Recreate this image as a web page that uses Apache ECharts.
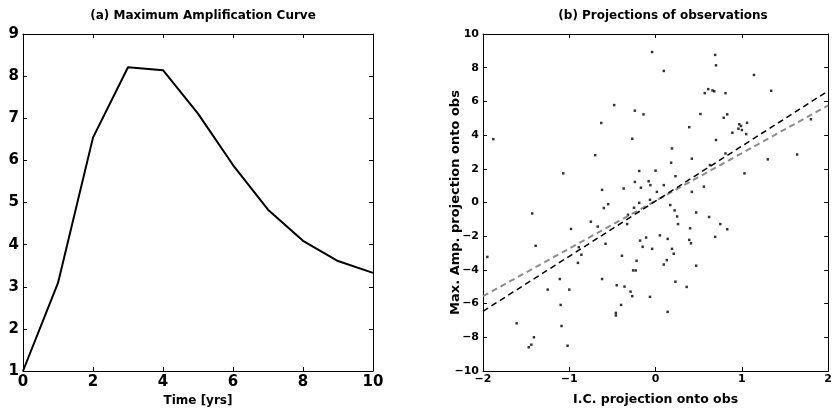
<!DOCTYPE html>
<html>
<head>
<meta charset="utf-8">
<script src="https://cdn.jsdelivr.net/npm/echarts@6/dist/echarts.min.js"></script>
<style>
html,body{margin:0;padding:0;background:#fff;}
#c{width:835px;height:412px;}
</style>
</head>
<body>
<div id="c"></div>
<script>
// Panel (a): Maximum amplification curve
var timeYrs = [0, 1, 2, 3, 4, 5, 6, 7, 8, 9, 10];
var maxAmp = [1.0, 3.09, 6.54, 8.21, 8.14, 7.11, 5.89, 4.83, 4.09, 3.61, 3.33];

// Panel (b): projections of observations (x = I.C. projection, y = Max. Amp. projection)
var obsX = [-0.04, 0.095, -0.48, -0.24, -0.14, -0.63, -0.27, -1.88, -0.70, -1.07,
  -0.19, 0.0, -0.24, -0.08, -0.06, -0.17, -0.37, 0.095, -0.62, 0.015,
  -0.065, -0.25, -0.19, -0.55, -0.60, -1.43, -0.32,
  0.69, 0.70, 1.14, 0.61, 0.57, 0.66, 0.68, 0.81, 1.34, 0.52,
  0.79, 0.83, 0.39, 0.97, 0.99, 0.96, 1.0, 1.06, 0.89, 1.05,
  0.70, 1.80, 0.19, 0.81, 0.42, 0.18, 1.30, 1.64, 1.03, 0.63,
  0.23, 0.56, 0.42, 0.17, 0.22, 0.25, 0.47, 0.62,
  -0.33, -0.75, -0.67, -0.98, -1.39, -0.89, -0.58, -0.86, -0.90, -0.39,
  -0.18, -0.11, -0.15, -0.04, 0.05, 0.095, -0.22, -0.26, -0.23, -1.11,
  -0.62, -1.25, -1.00, -0.45, -0.36, -0.29, -0.27, -0.065, -1.10, -0.40,
  -0.46, -0.46, 0.14, -1.61, -1.09, -1.41, -1.44, -1.47, -1.02,
  0.26, 0.40, 0.75, 0.83, 0.69, 0.14, 0.39, 0.41, 0.19, 0.21,
  0.13, 0.47, 0.23, 0.36, -1.95];
var obsY = [8.93, 7.81, 5.78, 5.45, 5.23, 4.72, 3.78, 3.76, 2.81, 1.73,
  1.87, 1.89, 1.22, 1.26, 1.03, 0.88, 0.83, 1.03, 0.75, 0.63,
  0.16, -0.31, -0.02, -0.10, -0.33, -0.65, -0.73,
  8.76, 8.14, 7.57, 6.73, 6.49, 6.65, 6.60, 6.49, 6.63, 5.25,
  5.03, 5.23, 4.47, 4.64, 4.54, 4.38, 4.30, 4.73, 4.14, 4.06,
  3.71, 4.94, 3.21, 2.91, 2.60, 2.36, 2.56, 2.85, 1.73, 2.22,
  1.56, 0.94, 0.63, -0.15, -0.47, -0.83, -0.59, -0.86,
  -1.28, -1.14, -1.43, -1.57, -2.57, -2.65, -2.45, -3.10, -3.58, -3.16,
  -2.26, -2.08, -2.63, -2.75, -1.95, -3.68, -3.46, -4.03, -4.03, -4.54,
  -4.54, -5.17, -5.17, -4.91, -4.99, -5.29, -5.56, -5.60, -6.08, -6.08,
  -6.55, -6.70, -6.49, -7.17, -7.33, -8.00, -8.44, -8.59, -8.50,
  -1.28, -1.53, -1.28, -1.59, -2.04, -2.16, -2.22, -2.42, -2.75, -3.04,
  -3.42, -3.75, -4.70, -5.01, -3.23];

// Regression lines (end points)
var fitX = [-2, 2];
var fitBlackY = [-6.46, 6.62];
var fitGrayY = [-5.56, 5.76];

var FONT = '"DejaVu Sans", Verdana, sans-serif';
function minus(v){ return String(v).replace('-', '\u2212'); }

function pairs(xs, ys){ var out=[]; for (var i=0;i<xs.length;i++) out.push([xs[i], ys[i]]); return out; }

var lblA = {fontFamily: FONT, fontWeight: 'bold', fontSize: 15, color: '#000'};
var lblB = {fontFamily: FONT, fontWeight: 'bold', fontSize: 11, color: '#000', formatter: minus};
var axLine = {show: true, onZero: false, lineStyle: {color: '#000', width: 1}};
var tickIn = {show: true, inside: true, length: 4, lineStyle: {color: '#000', width: 1}};
var nameStyle = {fontFamily: FONT, fontWeight: 'bold', fontSize: 12, color: '#000'};

var chart = echarts.init(document.getElementById('c'), null, {renderer: 'canvas'});
chart.setOption({
  backgroundColor: '#fff',
  animation: false,
  title: [
    {text: '(a) Maximum Amplification Curve', left: 198, top: 5, textAlign: 'center',
     textStyle: {fontFamily: FONT, fontWeight: 'bold', fontSize: 12, color: '#000'}},
    {text: '(b) Projections of observations', left: 658, top: 5, textAlign: 'center',
     textStyle: {fontFamily: FONT, fontWeight: 'bold', fontSize: 12, color: '#000'}}
  ],
  grid: [
    {left: 23, top: 34, width: 350, height: 337},
    {left: 483, top: 34, width: 349, height: 337}
  ],
  xAxis: [
    {gridIndex: 0, type: 'value', min: 0, max: 10, interval: 2, position: 'bottom',
     axisLine: axLine, axisTick: tickIn, splitLine: {show: false},
     axisLabel: Object.assign({margin: 4}, lblA),
     name: 'Time [yrs]', nameLocation: 'middle', nameGap: 24, nameTextStyle: nameStyle},
    {gridIndex: 0, type: 'value', min: 0, max: 10, interval: 2, position: 'top',
     axisLine: axLine, axisTick: tickIn, splitLine: {show: false}, axisLabel: {show: false}},
    {gridIndex: 1, type: 'value', min: -2, max: 2, interval: 1, position: 'bottom',
     axisLine: axLine, axisTick: tickIn, splitLine: {show: false},
     axisLabel: Object.assign({margin: 3}, lblB),
     name: 'I.C. projection onto obs', nameLocation: 'middle', nameGap: 22,
     nameTextStyle: Object.assign({}, nameStyle, {fontSize: 12.5})},
    {gridIndex: 1, type: 'value', min: -2, max: 2, interval: 1, position: 'top',
     axisLine: axLine, axisTick: tickIn, splitLine: {show: false}, axisLabel: {show: false}}
  ],
  yAxis: [
    {gridIndex: 0, type: 'value', min: 1, max: 9, interval: 1, position: 'left',
     axisLine: axLine, axisTick: tickIn, splitLine: {show: false},
     axisLabel: Object.assign({margin: 4}, lblA)},
    {gridIndex: 0, type: 'value', min: 1, max: 9, interval: 1, position: 'right',
     axisLine: axLine, axisTick: tickIn, splitLine: {show: false}, axisLabel: {show: false}},
    {gridIndex: 1, type: 'value', min: -10, max: 10, interval: 2, position: 'left',
     axisLine: axLine, axisTick: tickIn, splitLine: {show: false},
     axisLabel: Object.assign({margin: 4}, lblB),
     name: 'Max. Amp. projection onto obs', nameLocation: 'middle', nameGap: 21,
     nameMoveOverlap: false,
     nameTextStyle: Object.assign({}, nameStyle, {fontSize: 13})},
    {gridIndex: 1, type: 'value', min: -10, max: 10, interval: 2, position: 'right',
     axisLine: axLine, axisTick: tickIn, splitLine: {show: false}, axisLabel: {show: false}}
  ],
  series: [
    {type: 'line', xAxisIndex: 0, yAxisIndex: 0, data: pairs(timeYrs, maxAmp),
     showSymbol: false, lineStyle: {color: '#000', width: 2}},
    {type: 'line', xAxisIndex: 2, yAxisIndex: 2, data: pairs(fitX, fitGrayY),
     showSymbol: false, lineStyle: {color: '#8c8c8c', width: 2, type: [6, 4]}},
    {type: 'line', xAxisIndex: 2, yAxisIndex: 2, data: pairs(fitX, fitBlackY),
     showSymbol: false, lineStyle: {color: '#000', width: 1.5, type: [6, 4]}},
    {type: 'scatter', xAxisIndex: 2, yAxisIndex: 2, data: pairs(obsX, obsY),
     symbol: 'rect', symbolSize: 2.5, itemStyle: {color: '#000'}}
  ]
});
</script>
</body>
</html>
